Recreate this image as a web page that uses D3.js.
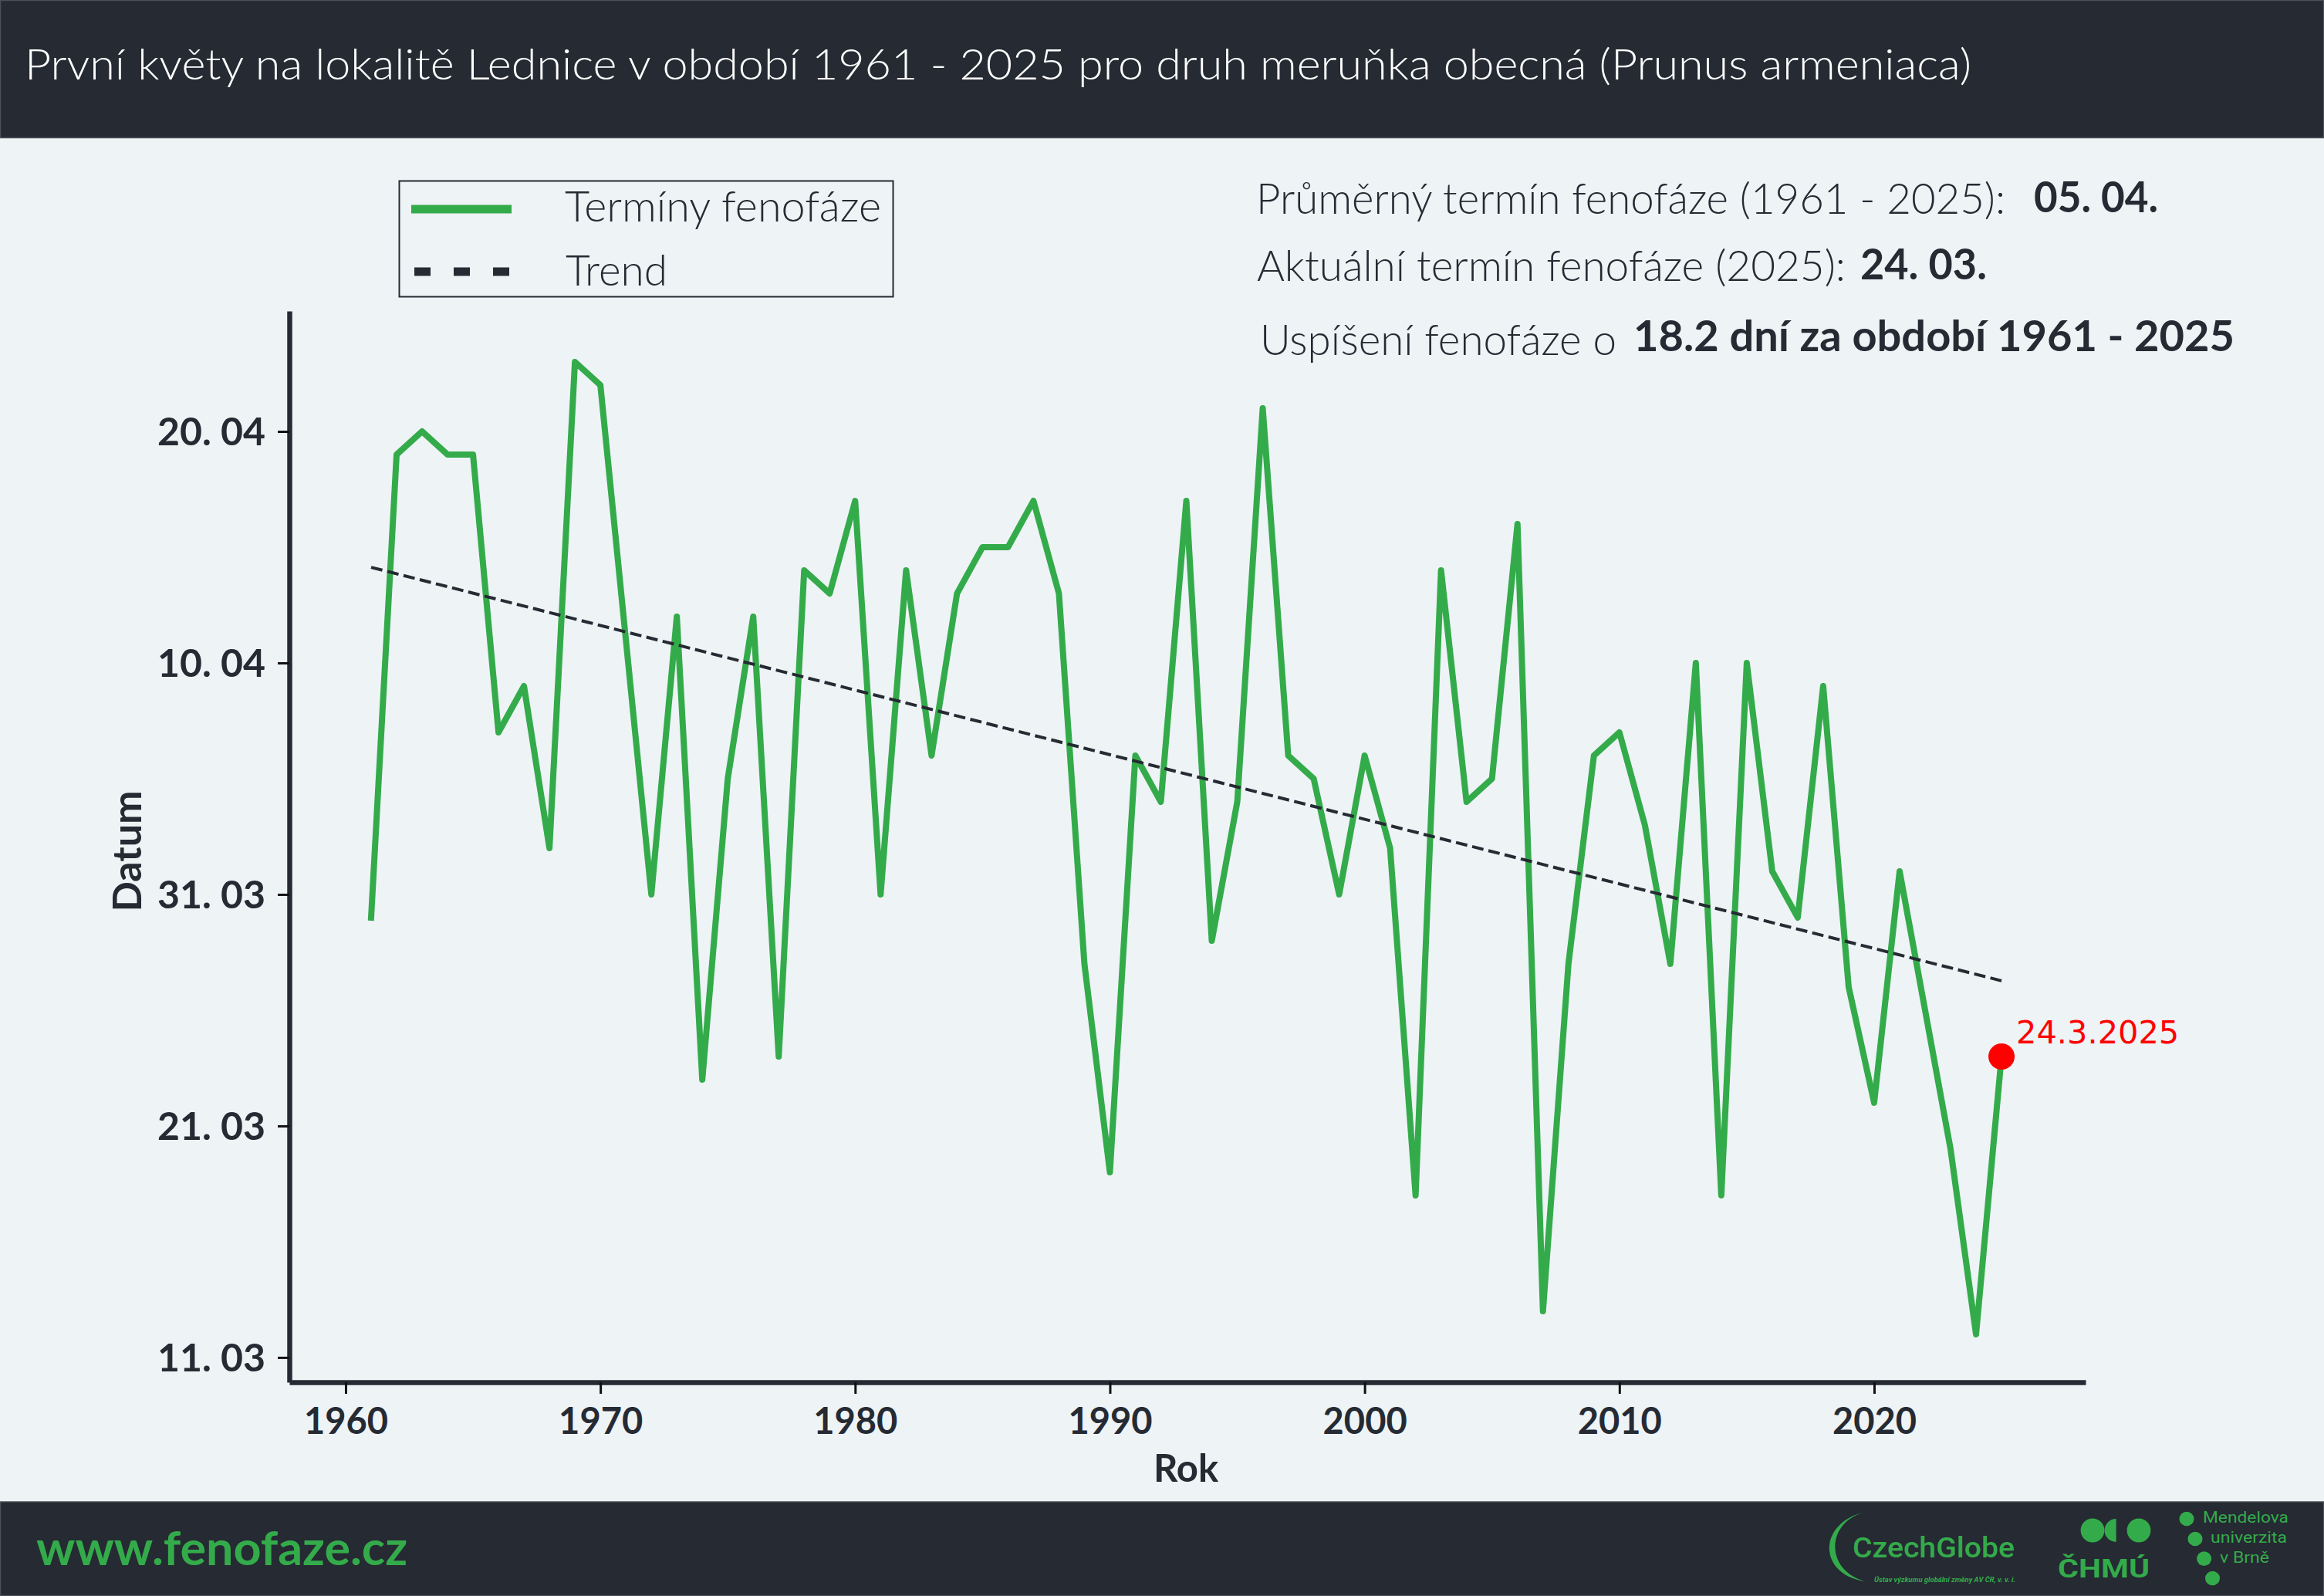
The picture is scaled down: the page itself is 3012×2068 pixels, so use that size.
<!DOCTYPE html>
<html lang="cs">
<head>
<meta charset="utf-8">
<script src="https://cdn.jsdelivr.net/npm/d3@7/dist/d3.min.js"></script>
<style>html,body{margin:0;padding:0;background:#eef3f6}svg{display:block}</style>
</head>
<body>
<svg id="chart" width="3012" height="2068" xmlns="http://www.w3.org/2000/svg"></svg>
<script>
// Day of year (non-leap): 70 = 11. 3., 110 = 20. 4.
const years = [1961,1962,1963,1964,1965,1966,1967,1968,1969,1970,1971,1972,1973,1974,1975,1976,1977,1978,1979,1980,1981,1982,1983,1984,1985,1986,1987,1988,1989,1990,1991,1992,1993,1994,1995,1996,1997,1998,1999,2000,2001,2002,2003,2004,2005,2006,2007,2008,2009,2010,2011,2012,2013,2014,2015,2016,2017,2018,2019,2020,2021,2022,2023,2024,2025];
const phenoDays = [89,109,110,109,109,97,99,92,113,112,101,90,102,82,95,102,83,104,103,107,90,104,96,103,105,105,107,103,87,78,96,94,107,88,94,111,96,95,90,96,92,77,104,94,95,106,72,87,96,97,93,87,100,77,100,91,89,99,86,81,91,85,79,71,83];
const trendYears = [1961,2025];
const trendDays = [104.13,86.27];
const xTickYears = [1960,1970,1980,1990,2000,2010,2020];
const yTickDays = [70,80,90,100,110];
const yTickLabels = ["11. 03","21. 03","31. 03","10. 04","20. 04"];
const titleText = "První květy na lokalitě Lednice v období 1961 - 2025 pro druh meruňka obecná (Prunus armeniaca)";
const legendLabels = ["Termíny fenofáze","Trend"];
const siteText = "www.fenofaze.cz";
const lastLabel = "24.3.2025";

const DARK="#252a33", BG="#eef3f6", GREEN="#34ab4a", EDGE="#4b5058", FONT="Lato, 'Open Sans', sans-serif";
const svg = d3.select("#chart");
svg.append("rect").attr("width",3012).attr("height",2068).attr("fill",BG);
svg.append("rect").attr("x",0.5).attr("y",0.5).attr("width",3011).attr("height",178).attr("fill",DARK).attr("stroke",EDGE).attr("stroke-width",1.5);
svg.append("rect").attr("x",0.5).attr("y",1946).attr("width",3011).attr("height",121.5).attr("fill",DARK).attr("stroke",EDGE).attr("stroke-width",1.5);

function txt(s,x0,x1,base,size,weight,fill){
  return svg.append("text").text(s).attr("x",x0).attr("y",base)
    .attr("font-family",FONT).attr("font-size",size).attr("font-weight",weight||300)
    .attr("fill",fill||DARK).attr("textLength",x1-x0).attr("lengthAdjust","spacingAndGlyphs");
}

txt(titleText,32,2555,103,56,300,"#ffffff");

// scales
const x = d3.scaleLinear().domain([1957.79,2028.3]).range([375,2703]);
const y = d3.scaleLinear().domain([68.93,115.2]).range([1791,403]);

// axes
const labelFor = d => yTickLabels[yTickDays.indexOf(d)];
const gx = svg.append("g").attr("transform","translate(0,1791)")
  .call(d3.axisBottom(x).tickValues(xTickYears).tickFormat(d3.format("d")).tickSize(15).tickSizeOuter(0).tickPadding(19));
const gy = svg.append("g").attr("transform","translate(375,0)")
  .call(d3.axisLeft(y).tickValues(yTickDays).tickFormat(labelFor).tickSize(15).tickSizeOuter(0).tickPadding(16));
[gx,gy].forEach(g=>{
  g.select(".domain").attr("stroke",DARK).attr("stroke-width",6.5);
  g.selectAll(".tick line").attr("stroke","#111").attr("stroke-width",3);
  g.selectAll("text").attr("font-family",FONT).attr("font-weight",700).attr("fill",DARK);
});
gx.selectAll("text").attr("font-size",47);
gy.selectAll("text").attr("font-size",50).attr("dy","0.36em");

svg.append("text").text("Rok").attr("x",1537).attr("y",1920).attr("text-anchor","middle")
  .attr("font-family",FONT).attr("font-weight",700).attr("font-size",49).attr("fill",DARK);
svg.append("text").text("Datum").attr("transform","translate(183,1103) rotate(-90)").attr("text-anchor","middle")
  .attr("font-family",FONT).attr("font-weight",700).attr("font-size",52).attr("fill",DARK);

// series
const line = d3.line().x(d=>x(d[0])).y(d=>y(d[1]));
svg.append("path").datum(d3.zip(years,phenoDays)).attr("d",line).attr("fill","none")
  .attr("stroke",GREEN).attr("stroke-width",8).attr("stroke-linejoin","round").attr("stroke-linecap","square");
svg.append("path").datum(d3.zip(trendYears,trendDays)).attr("d",line).attr("fill","none")
  .attr("stroke",DARK).attr("stroke-width",4).attr("stroke-dasharray","15,6.65");
svg.append("circle").attr("cx",x(years[years.length-1])).attr("cy",y(phenoDays[phenoDays.length-1])).attr("r",17).attr("fill","#ff0000");
svg.append("text").text(lastLabel).attr("x",x(years[years.length-1])+19).attr("y",y(phenoDays[phenoDays.length-1])-17)
  .attr("font-family","'DejaVu Sans'").attr("font-size",41.5).attr("fill","#ff0000");

// legend
svg.append("rect").attr("x",517.5).attr("y",234.5).attr("width",640).attr("height",150).attr("fill","none").attr("stroke",DARK).attr("stroke-width",2);
svg.append("line").attr("x1",533).attr("x2",663).attr("y1",271).attr("y2",271).attr("stroke",GREEN).attr("stroke-width",11);
svg.append("line").attr("x1",537).attr("x2",662).attr("y1",352).attr("y2",352).attr("stroke",DARK).attr("stroke-width",11).attr("stroke-dasharray","21,30");
txt(legendLabels[0],732,1142,287,56);
txt(legendLabels[1],733,865,370,56);

// summary
txt("Průměrný termín fenofáze (1961 - 2025):",1628,2599,277,56);
txt("05. 04.",2636,2797,275,56,700);
txt("Aktuální termín fenofáze (2025):",1629,2392,364,56);
txt("24. 03.",2411,2575,362,56,700);
txt("Uspíšení fenofáze o",1633,2095,460,56);
txt("18.2 dní za období 1961 - 2025",2117,2896,455,56,700);

// footer
txt(siteText,47,528,2028,62,700,GREEN);
// CzechGlobe
svg.append("path").attr("d","M2414,1960 C2356,1975 2356,2040 2417,2049 C2366,2035 2366,1975 2414,1960 Z").attr("fill",GREEN);
svg.append("text").text("CzechGlobe").attr("x",2401).attr("y",2018).attr("font-family","Roboto").attr("font-weight",500).attr("font-size",37)
  .attr("fill",GREEN).attr("textLength",210).attr("lengthAdjust","spacingAndGlyphs");
svg.append("text").text("Ústav výzkumu globální změny AV ČR, v. v. i.").attr("x",2429).attr("y",2050).attr("font-family","Roboto").attr("font-style","italic").attr("font-weight",700).attr("font-size",9.5)
  .attr("fill",GREEN).attr("textLength",183).attr("lengthAdjust","spacingAndGlyphs");
// ČHMÚ
svg.append("circle").attr("cx",2712).attr("cy",1983).attr("r",15.4).attr("fill",GREEN);
svg.append("path").attr("d","M2742.6,1968 A15,15 0 0 0 2742.6,1998 Z").attr("fill",GREEN);
svg.append("circle").attr("cx",2772).attr("cy",1983).attr("r",15.4).attr("fill",GREEN);
svg.append("text").text("ČHMÚ").attr("x",2667).attr("y",2044).attr("font-family","Roboto").attr("font-weight",700).attr("font-size",33)
  .attr("fill",GREEN).attr("textLength",119).attr("lengthAdjust","spacingAndGlyphs");
// Mendelu
[[2834,1968],[2845,1994],[2856.6,2019.6],[2867.5,2045]].forEach(c=>svg.append("ellipse").attr("cx",c[0]).attr("cy",c[1]).attr("rx",9.5).attr("ry",9.3).attr("fill",GREEN));
[["Mendelova",2855,2966,1973],["univerzita",2865,2964,1999],["v Brně",2877,2941,2025]].forEach(t=>{
  svg.append("text").text(t[0]).attr("x",t[1]).attr("y",t[3]).attr("font-family","Roboto").attr("font-size",20).attr("fill",GREEN)
    .attr("textLength",t[2]-t[1]).attr("lengthAdjust","spacingAndGlyphs");
});
</script>
</body>
</html>
